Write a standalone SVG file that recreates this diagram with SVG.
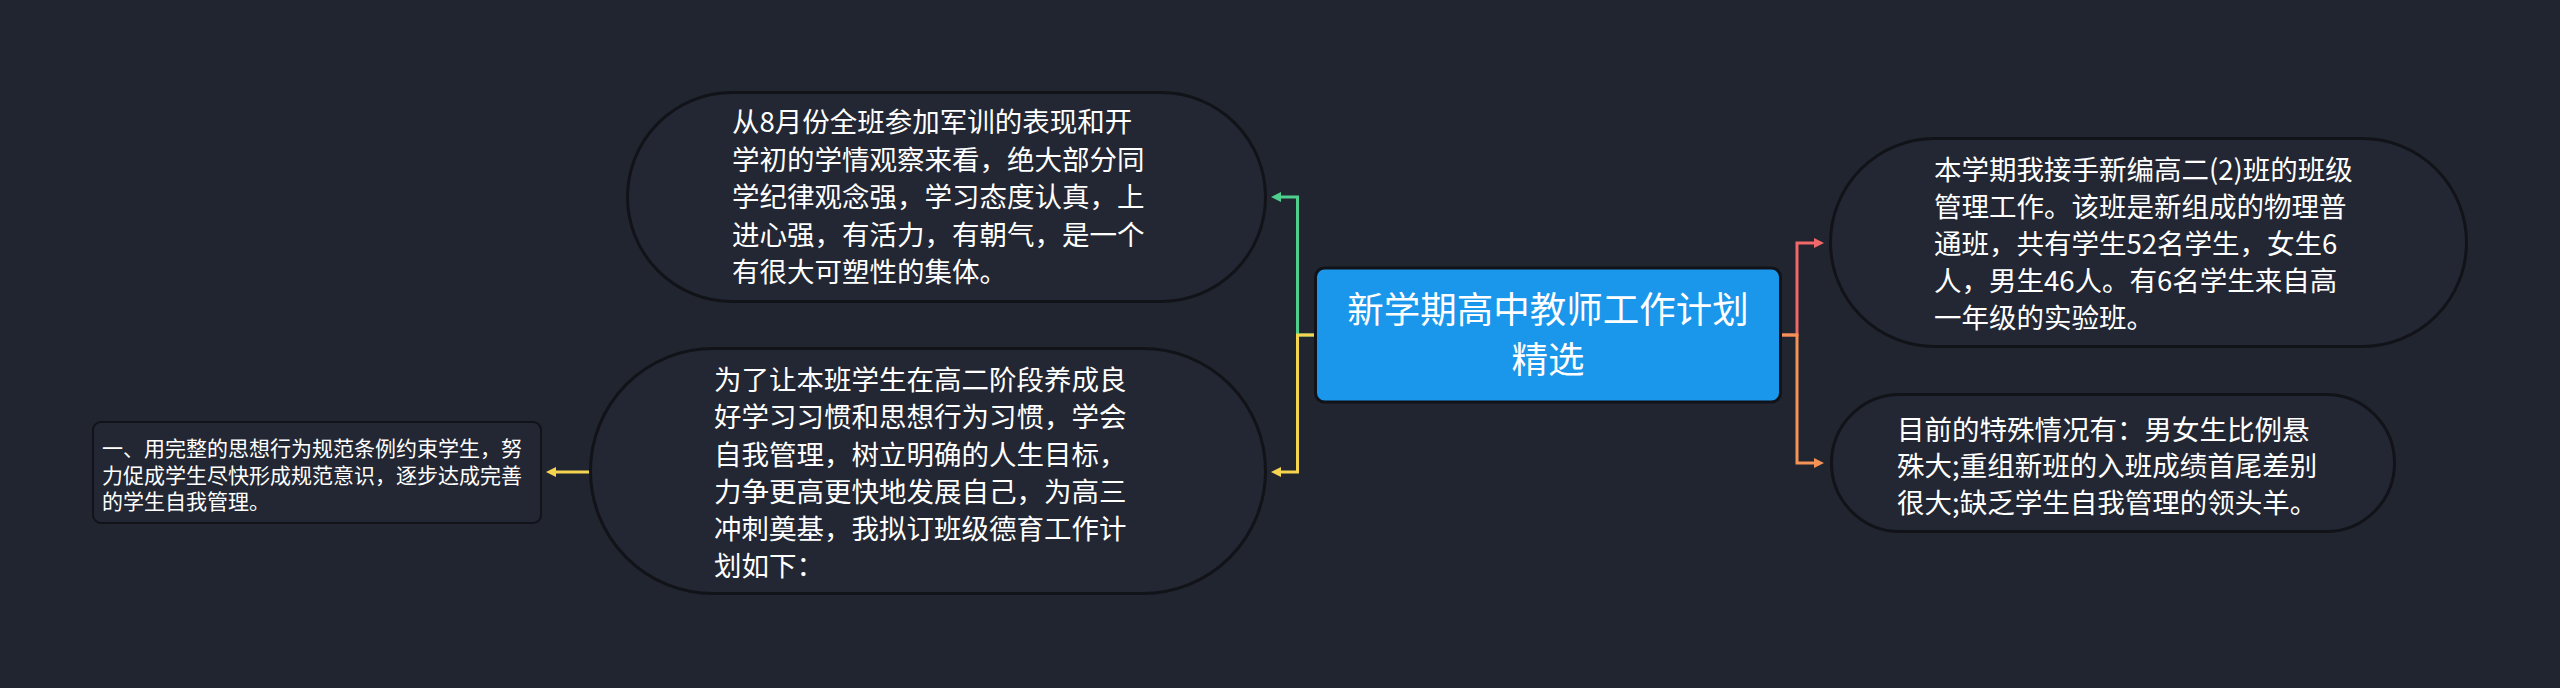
<svg xmlns="http://www.w3.org/2000/svg" width="2560" height="688" viewBox="0 0 2560 688">
  <style>
    .bg { fill: #212530; }
    .pill { fill: #232733; stroke: #111318; stroke-width: 3; }
    .box { fill: #232733; stroke: #111318; stroke-width: 2; }
    .root { fill: #1a96ea; stroke: #111318; stroke-width: 3; }
    .t { font-family: "Noto Sans CJK SC", "Noto Sans", sans-serif; fill: #ffffff; font-size: 27.5px; }
    .ts { font-family: "Noto Sans CJK SC", "Noto Sans", sans-serif; fill: #ffffff; font-size: 21px; }
    .tr { font-family: "Noto Sans CJK SC", "Noto Sans", sans-serif; fill: #ffffff; font-size: 36.5px; text-anchor: middle; }
    .c { fill: none; stroke-width: 3; }
  </style>
  <defs>
    <marker id="ag" viewBox="0 0 10 10" refX="1" refY="5" markerWidth="10" markerHeight="10" markerUnits="userSpaceOnUse" orient="auto">
      <path d="M0,0 L10,5 L0,10 z" fill="#4fcf8e"/>
    </marker>
    <marker id="ay" viewBox="0 0 10 10" refX="1" refY="5" markerWidth="10" markerHeight="10" markerUnits="userSpaceOnUse" orient="auto">
      <path d="M0,0 L10,5 L0,10 z" fill="#f5d54f"/>
    </marker>
    <marker id="ar" viewBox="0 0 10 10" refX="1" refY="5" markerWidth="10" markerHeight="10" markerUnits="userSpaceOnUse" orient="auto">
      <path d="M0,0 L10,5 L0,10 z" fill="#f06868"/>
    </marker>
    <marker id="ao" viewBox="0 0 10 10" refX="1" refY="5" markerWidth="10" markerHeight="10" markerUnits="userSpaceOnUse" orient="auto">
      <path d="M0,0 L10,5 L0,10 z" fill="#f59256"/>
    </marker>
  </defs>
  <rect class="bg" x="0" y="0" width="2560" height="688"/>

  <g id="connectors">
    <path class="c" stroke="#4fcf8e" d="M1316 335 H1297.5 V197 H1280" marker-end="url(#ag)"/>
    <path class="c" stroke="#f5d54f" d="M1316 335 H1297.5 V472 H1280" marker-end="url(#ay)"/>
    <path class="c" stroke="#f5d54f" d="M590 472 H555" marker-end="url(#ay)"/>
    <path class="c" stroke="#f06868" d="M1779 335 H1797 V243 H1815" marker-end="url(#ar)"/>
    <path class="c" stroke="#f59256" d="M1779 335 H1797 V463 H1815" marker-end="url(#ao)"/>
  </g>

  <g id="root">
    <rect class="root" x="1315.5" y="268" width="465" height="134" rx="9"/>
    <text class="tr" x="1548" y="323">新学期高中教师工作计划</text>
    <text class="tr" x="1548" y="373">精选</text>
  </g>

  <g id="node-left-top">
    <rect class="pill" x="627.5" y="92.5" width="638" height="209" rx="104.5"/>
    <text class="t" x="732" y="132">从8月份全班参加军训的表现和开</text>
    <text class="t" x="732" y="169.5">学初的学情观察来看，绝大部分同</text>
    <text class="t" x="732" y="207">学纪律观念强，学习态度认真，上</text>
    <text class="t" x="732" y="244.5">进心强，有活力，有朝气，是一个</text>
    <text class="t" x="732" y="282">有很大可塑性的集体。</text>
  </g>

  <g id="node-left-mid">
    <rect class="pill" x="590.5" y="348.5" width="675" height="245" rx="122.5"/>
    <text class="t" x="714" y="390">为了让本班学生在高二阶段养成良</text>
    <text class="t" x="714" y="427">好学习习惯和思想行为习惯，学会</text>
    <text class="t" x="714" y="464.5">自我管理，树立明确的人生目标，</text>
    <text class="t" x="714" y="501.5">力争更高更快地发展自己，为高三</text>
    <text class="t" x="714" y="539">冲刺奠基，我拟订班级德育工作计</text>
    <text class="t" x="714" y="576">划如下：</text>
  </g>

  <g id="node-left-small">
    <rect class="box" x="93" y="422" width="448" height="101" rx="8"/>
    <text class="ts" x="102" y="456">一、用完整的思想行为规范条例约束学生，努</text>
    <text class="ts" x="102" y="482.5">力促成学生尽快形成规范意识，逐步达成完善</text>
    <text class="ts" x="102" y="509">的学生自我管理。</text>
  </g>

  <g id="node-right-top">
    <rect class="pill" x="1830.5" y="138.5" width="636" height="208" rx="104"/>
    <text class="t" x="1934" y="180">本学期我接手新编高二(2)班的班级</text>
    <text class="t" x="1934" y="217">管理工作。该班是新组成的物理普</text>
    <text class="t" x="1934" y="254">通班，共有学生52名学生，女生6</text>
    <text class="t" x="1934" y="291">人，男生46人。有6名学生来自高</text>
    <text class="t" x="1934" y="328">一年级的实验班。</text>
  </g>

  <g id="node-right-bottom">
    <rect class="pill" x="1831.5" y="394.5" width="563" height="137" rx="68.5"/>
    <text class="t" x="1897" y="439.5">目前的特殊情况有：男女生比例悬</text>
    <text class="t" x="1897" y="476">殊大;重组新班的入班成绩首尾差别</text>
    <text class="t" x="1897" y="512.5">很大;缺乏学生自我管理的领头羊。</text>
  </g>
</svg>
